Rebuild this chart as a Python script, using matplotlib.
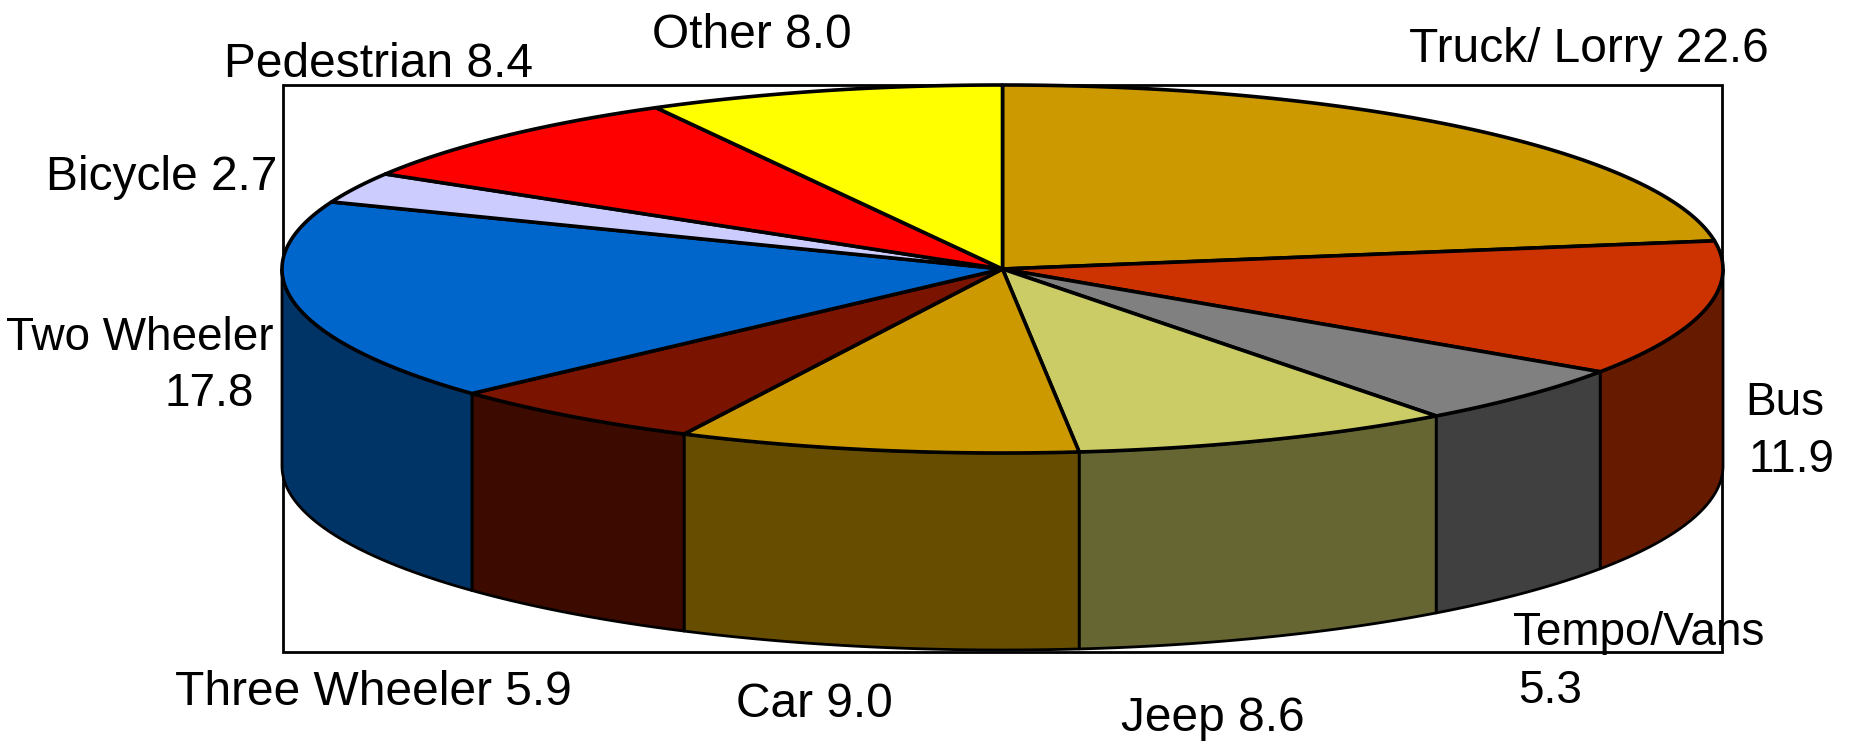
import numpy as np
import matplotlib
matplotlib.use("Agg")
import matplotlib.pyplot as plt
from matplotlib.patches import Polygon, Rectangle
from matplotlib.colors import to_rgb

# Dados (percentual por categoria), sentido horário a partir do topo
categorias = ["Truck/ Lorry", "Bus", "Tempo/Vans", "Jeep", "Car",
              "Three Wheeler", "Two Wheeler", "Bicycle", "Pedestrian", "Other"]
valores = [22.6, 11.9, 5.3, 8.6, 9.0, 5.9, 17.8, 2.7, 8.4, 8.0]
cores = ["#CC9900", "#CC3300", "#808080", "#CCCC66", "#CC9900",
         "#7A1400", "#0066CC", "#CCCCFF", "#FF0000", "#FFFF00"]

# geometria da pizza 3D (em pixels)
cx, cy = 1002.5, 269
rx, ry = 720.5, 184
prof = 197

plt.rcParams["font.family"] = ["Liberation Sans", "DejaVu Sans"]

fig = plt.figure(figsize=(18.52, 7.41), dpi=100)
ax = fig.add_axes([0, 0, 1, 1])
ax.set_xlim(0, 1852)
ax.set_ylim(741, 0)
ax.axis("off")

# moldura
ax.add_patch(Rectangle((283, 85), 1722 - 283, 652 - 85, fill=False,
                       edgecolor="black", lw=2, zorder=1))

def ponto(theta, dy=0):
    t = np.radians(theta)
    return cx + rx * np.cos(t), cy - ry * np.sin(t) + dy

total = sum(valores)
angulos = [90.0]
for v in valores:
    angulos.append(angulos[-1] - v / total * 360.0)

# laterais (só a metade da frente é visível)
for i, cor in enumerate(cores):
    a1, a2 = angulos[i], angulos[i + 1]
    ini, fim = min(a1, 0), max(a2, -180)
    if ini <= fim:
        continue
    th = np.linspace(ini, fim, 200)
    topo = [ponto(t) for t in th]
    base = [ponto(t, prof) for t in th[::-1]]
    lado = tuple(c * 0.5 for c in to_rgb(cor))
    ax.add_patch(Polygon(topo + base, closed=True, facecolor=lado,
                         edgecolor="black", lw=2, joinstyle="round", zorder=2))

# fatias do topo
for i, cor in enumerate(cores):
    th = np.linspace(angulos[i], angulos[i + 1], 300)
    pts = [(cx, cy)] + [ponto(t) for t in th]
    ax.add_patch(Polygon(pts, closed=True, facecolor=cor, edgecolor="black",
                         lw=2.6, joinstyle="round", zorder=3))

# rótulos
txt = {c: f"{c} {v:.1f}" for c, v in zip(categorias, valores)}
rotulos = [
    (txt["Truck/ Lorry"], 1589, 62, 34.5),
    ("Bus", 1785, 415, 33), (f"{valores[1]:.1f}", 1791, 472, 33),
    ("Tempo/Vans", 1639, 645, 33), (f"{valores[2]:.1f}", 1550, 703, 33),
    (txt["Jeep"], 1213, 731, 34.5),
    (txt["Car"], 814, 717, 34.5),
    (txt["Three Wheeler"], 373, 705, 34.5),
    ("Two Wheeler", 140, 350, 33), (f"{valores[6]:.1f}", 209, 406, 33),
    (txt["Bicycle"], 162, 190, 34.5),
    (txt["Pedestrian"], 378, 77, 34.5),
    (txt["Other"], 752, 48, 34.5),
]
for s, x, y, fs in rotulos:
    ax.text(x, y, s, ha="center", va="baseline", fontsize=fs, color="black", zorder=5)

fig.savefig("out.png", dpi=100)
